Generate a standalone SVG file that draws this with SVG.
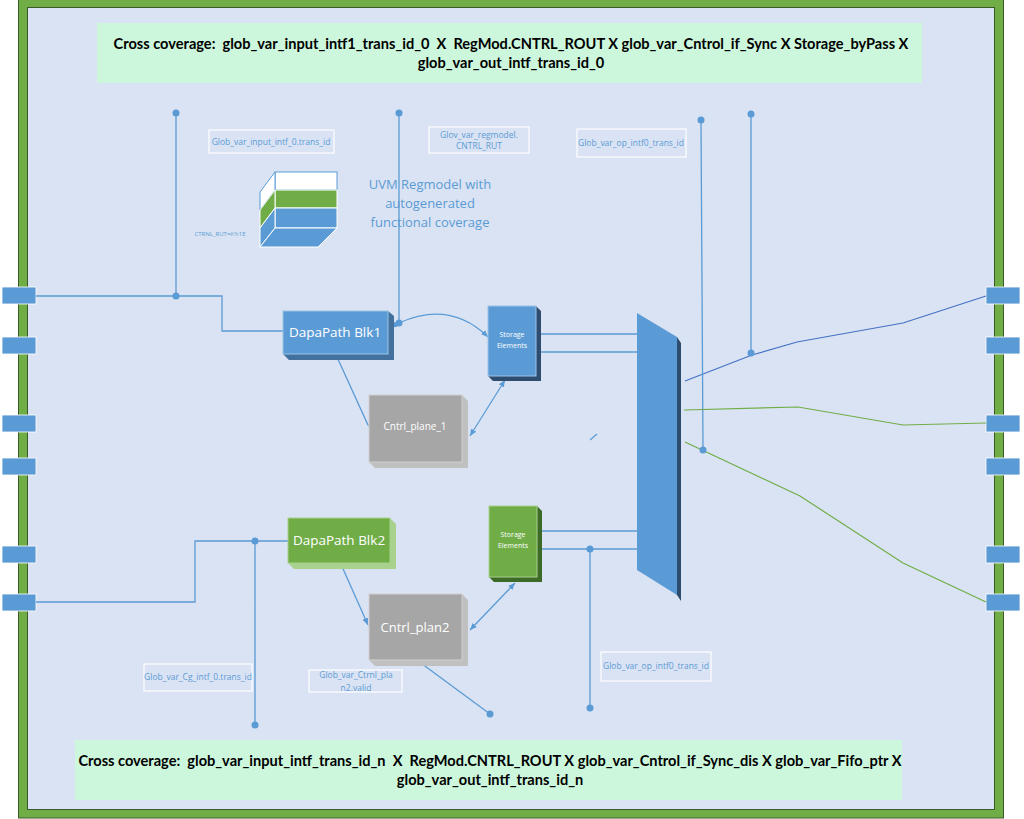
<svg xmlns="http://www.w3.org/2000/svg" width="1024" height="819" viewBox="0 0 1024 819">
<style>
text{font-family:"Open Sans","Liberation Sans",sans-serif}
.w{stroke:#5b9bd5;stroke-width:1.3;fill:none}
.g{stroke:#70ad47;stroke-width:1.2;fill:none}
.dot{fill:#5b9bd5}
.port{fill:#5b9bd5;stroke:#fff;stroke-width:.8}
.lbl{fill:none;stroke:#fff;stroke-width:1.2}
.lt{fill:#5b9bd5;font-size:8.5px;text-anchor:middle}
.cc{font-size:14.6px;font-weight:bold;fill:#000;text-anchor:middle;font-family:Lato,"Liberation Sans",sans-serif}
.nt{fill:#fff;text-anchor:middle}
</style>
<defs>
<marker id="a" markerWidth="8" markerHeight="8" refX="7" refY="4" orient="auto-start-reverse" markerUnits="userSpaceOnUse"><path d="M0,1L7,4L0,7Z" fill="#5b9bd5"/></marker>
</defs>
<rect width="1024" height="819" fill="#fff"/>
<rect x="23" y="3" width="976" height="811" fill="#dae3f3" stroke="#70ad47" stroke-width="8"/>
<rect x="18.5" y="-1" width="985" height="819" fill="none" stroke="#3a5a2a" stroke-width="1"/>
<rect x="27.5" y="7.5" width="967" height="802" fill="none" stroke="#3a5a2a" stroke-width="1"/>
<g id="cc-top"><rect x="97" y="23" width="825" height="60" fill="#cdf7dc"/>
<text class="cc" x="511" y="49" xml:space="preserve">Cross coverage:  glob_var_input_intf1_trans_id_0  X  RegMod.CNTRL_ROUT X glob_var_Cntrol_if_Sync X Storage_byPass X</text>
<text class="cc" x="511" y="68">glob_var_out_intf_trans_id_0</text></g>
<g id="cc-bottom"><rect x="75" y="740" width="827" height="60" fill="#cdf7dc"/>
<text class="cc" x="490" y="766" xml:space="preserve">Cross coverage:  glob_var_input_intf_trans_id_n  X  RegMod.CNTRL_ROUT X glob_var_Cntrol_if_Sync_dis X glob_var_Fifo_ptr X</text>
<text class="cc" x="490" y="785">glob_var_out_intf_trans_id_n</text></g>
<g id="ports">
<rect class="port" x="2" y="287" width="34" height="17"/><rect class="port" x="2" y="337" width="34" height="17"/>
<rect class="port" x="2" y="415" width="34" height="17"/><rect class="port" x="2" y="458" width="34" height="17"/>
<rect class="port" x="2" y="546" width="34" height="17"/><rect class="port" x="2" y="594" width="34" height="17"/>
<rect class="port" x="986" y="287" width="34" height="17"/><rect class="port" x="986" y="337" width="34" height="17"/>
<rect class="port" x="986" y="415" width="34" height="17"/><rect class="port" x="986" y="458" width="34" height="17"/>
<rect class="port" x="986" y="546" width="34" height="17"/><rect class="port" x="986" y="594" width="34" height="17"/>
</g>
<g id="connectors">
<path class="w" d="M36,296H222V331H283"/><path class="w" d="M176,113V296"/>
<path class="w" d="M399,113V323" /><path class="w" d="M399,323L390,327" marker-end="url(#a)"/>
<path class="w" d="M399,323Q450,300 488,337" marker-end="url(#a)"/>
<path class="w" d="M536,334H640M536,352H640"/>
<path class="w" d="M337,357L368,425L415,459" marker-end="url(#a)"/>
<path class="w" d="M505,380L470,436" marker-start="url(#a)" marker-end="url(#a)"/>
<path class="w" d="M590,440L597,434"/>
<path class="w" d="M537,531H640M537,549H640M590,549V708"/>
<path class="w" d="M36,602H195V541H288M255,541V725"/>
<path class="w" d="M340,562L368,625" marker-start="url(#a)" marker-end="url(#a)"/>
<path class="w" d="M515,583L470,630" marker-start="url(#a)" marker-end="url(#a)"/>
<path class="w" d="M414,658L490,714"/>
<path d="M685,381L752,355L797,342L903,323L986,296" fill="none" stroke="#4472c4" stroke-width="1.2"/>
<path class="w" d="M751,114V353M701,120L703,450"/>
<path class="g" d="M684,410L798,407L903,425L986,423"/>
<path class="g" d="M685,442L800,496L903,563L986,602"/>
<circle class="dot" cx="176" cy="113" r="3.5"/><circle class="dot" cx="176" cy="296" r="3.5"/>
<circle class="dot" cx="399" cy="113" r="3.5"/><circle class="dot" cx="399" cy="323" r="3.5"/>
<circle class="dot" cx="590" cy="549" r="3.5"/><circle class="dot" cx="590" cy="708" r="3.5"/>
<circle class="dot" cx="255" cy="541" r="3.5"/><circle class="dot" cx="255" cy="725" r="3.5"/>
<circle class="dot" cx="414" cy="658" r="3.5"/><circle class="dot" cx="490" cy="714" r="3.5"/>
<circle class="dot" cx="751" cy="114" r="3.5"/><circle class="dot" cx="751" cy="353" r="3.5"/>
<circle class="dot" cx="701" cy="120" r="3.5"/><circle class="dot" cx="703" cy="450" r="3.5"/>
</g>
<g id="regmodel" stroke="#fff" stroke-width="1">
<rect x="275" y="172" width="62" height="18" fill="#fff" stroke="#5b9bd5"/>
<rect x="275" y="190" width="62" height="18" fill="#70ad47"/>
<rect x="275" y="208" width="62" height="20" fill="#5b9bd5"/>
<path d="M260,192L275,172V190L260,210Z" fill="#fff" stroke="#5b9bd5"/>
<path d="M260,210L275,190V208L260,228Z" fill="#70ad47"/>
<path d="M260,228L275,208V228L260,247Z" fill="#5b9bd5"/>
<path d="M260,247L275,228H337L318,247Z" fill="#5b9bd5"/>
</g>
<text x="220" y="236" font-size="6" fill="#5b9bd5" text-anchor="middle">CTRNL_RUT=6'h1E</text>
<text x="430" y="189" font-size="13" fill="#5b9bd5" text-anchor="middle">UVM Regmodel with</text>
<text x="430" y="208" font-size="13" fill="#5b9bd5" text-anchor="middle">autogenerated</text>
<text x="430" y="227" font-size="13" fill="#5b9bd5" text-anchor="middle">functional coverage</text>
<g id="labels">
<rect class="lbl" x="209" y="130" width="125" height="23"/><text class="lt" x="271" y="145">Glob_var_input_intf_0.trans_id</text>
<rect class="lbl" x="429" y="127" width="100" height="26"/><text class="lt" x="479" y="138">Glov_var_regmodel.</text><text class="lt" x="479" y="149">CNTRL_RUT</text>
<rect class="lbl" x="577" y="129" width="109" height="28"/><text class="lt" x="631" y="146">Glob_var_op_intf0_trans_id</text>
<rect class="lbl" x="144" y="664" width="108" height="27"/><text class="lt" x="198" y="680">Glob_var_Cg_intf_0.trans_id</text>
<rect class="lbl" x="309" y="670" width="93" height="22"/><text class="lt" x="356" y="678" font-size="9.5">Glob_var_Ctrnl_pla</text><text class="lt" x="356" y="691" font-size="9.5">n2.valid</text>
<rect class="lbl" x="601" y="652" width="110" height="29"/><text class="lt" x="656" y="669">Glob_var_op_intf0_trans_id</text>
</g>
<g id="blk1"><path d="M283,354L289,360H394V316L388,311V354Z" fill="#41719c"/><rect x="283" y="311" width="105" height="43" fill="#5b9bd5" stroke="#9dc3e6"/><text class="nt" x="335" y="337" font-size="13.5">DapaPath Blk1</text></g>
<g id="st1"><path d="M488,376L493,381H541V311L536,306V376Z" fill="#2e4d6e"/><rect x="488" y="306" width="48" height="70" fill="#5b9bd5" stroke="#9dc3e6"/><text class="nt" x="512" y="337" font-size="7">Storage</text><text class="nt" x="512" y="348" font-size="7">Elements</text></g>
<g id="cp1"><path d="M369,462L375,468H468V401L462,395V462Z" fill="#c0c0c0"/><rect x="369" y="395" width="93" height="67" fill="#a6a6a6" stroke="#d0d0d0"/><text class="nt" x="415" y="430" font-size="10">Cntrl_plane_1</text></g>
<g id="st2"><path d="M489,577L494,582H542V511L537,506V577Z" fill="#3d6b27"/><rect x="489" y="506" width="48" height="71" fill="#70ad47" stroke="#a9d18e"/><text class="nt" x="513" y="537" font-size="7">Storage</text><text class="nt" x="513" y="548" font-size="7">Elements</text></g>
<g id="blk2"><path d="M288,563L294,569H396V524L390,518V563Z" fill="#a9d18e"/><rect x="288" y="518" width="102" height="45" fill="#70ad47" stroke="#a9d18e"/><text class="nt" x="339" y="545" font-size="13.5">DapaPath Blk2</text></g>
<g id="cp2"><path d="M369,660L375,666H468V600L462,594V660Z" fill="#c0c0c0"/><rect x="369" y="594" width="93" height="66" fill="#a6a6a6" stroke="#d0d0d0"/><text class="nt" x="415" y="632" font-size="13">Cntrl_plan2</text></g>
<g id="mux"><path d="M637,570L677,595L681,601V343L677,337V595" fill="#2e4d6e"/><path d="M637,313L677,337V595L637,570Z" fill="#5b9bd5"/></g>
</svg>
